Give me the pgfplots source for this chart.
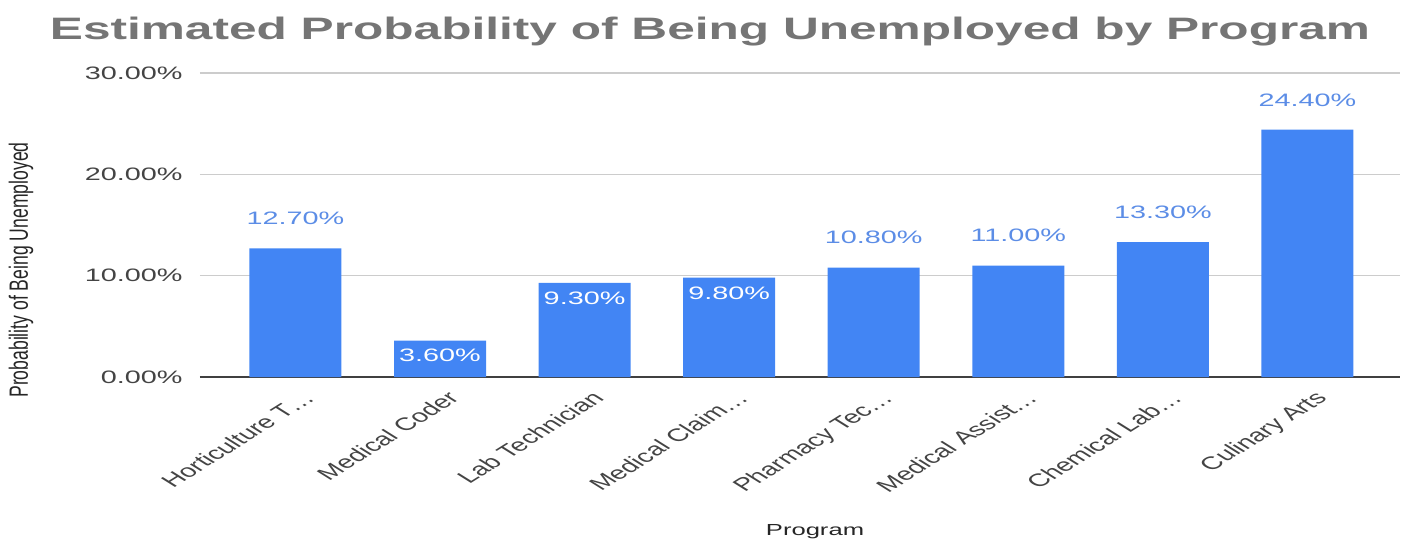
\documentclass[border=0pt]{standalone}
\usepackage{fontspec}
\setmainfont{Liberation Sans}[FakeStretch=1.6]
\newfontfamily\ylabfont{Liberation Sans}
\usepackage{pgfplots}
\pgfplotsset{compat=1.18}
\definecolor{barblue}{HTML}{4285F4}
\definecolor{lblblue}{HTML}{5C8DE6}
\definecolor{titlegray}{HTML}{757575}
\definecolor{tickgray}{HTML}{444444}
\definecolor{gridgray}{HTML}{CCCCCC}
\begin{document}
\begin{tikzpicture}
\useasboundingbox (-100pt,-81.5pt) rectangle (608pt,188.5pt);
\begin{axis}[
  scale only axis,
  width=600pt, height=152pt,
  anchor=south west, at={(0,0)},
  xmin=-0.66, xmax=7.64,
  ymin=0, ymax=30,
  enlargelimits=false,
  axis line style={draw=none},
  major tick length=0pt,
  ytick={0,10,20,30},
  yticklabels={0.00\%,10.00\%,20.00\%,30.00\%},
  yticklabel style={font=\fontsize{9}{10}\selectfont, text=tickgray, anchor=east, inner sep=0pt, xshift=-8.5pt},
  xtick={0,1,2,3,4,5,6,7},
  xticklabels={Horticulture T\dots,Medical Coder,Lab Technician,Medical Claim\dots,Pharmacy Tec\dots,Medical Assist\dots,Chemical Lab\dots,Culinary Arts},
  xticklabel style={font=\ylabfont\fontsize{9}{10}\selectfont, text=tickgray, inner sep=0pt, anchor=base east, xshift=10.5pt, yshift=-11pt, xscale=1.6, rotate=45, transform shape},
  ymajorgrids,
  grid style={draw=gridgray, line width=0.75pt},
  extra y ticks={0},
  extra y tick labels={},
  extra y tick style={grid style={draw=black!75, line width=1.2pt}},
  clip=false,
]
\addplot[ybar, bar width=46pt, fill=barblue, draw=none] coordinates {
  (0,12.7) (1,3.6) (2,9.3) (3,9.8) (4,10.8) (5,11.0) (6,13.3) (7,24.4)
};
\addplot[draw=none, mark=none, point meta=explicit symbolic,
  nodes near coords,
  every node near coord/.style={font=\fontsize{9}{10}\selectfont, text=lblblue, anchor=base, inner sep=0pt, yshift=11.8pt}]
  coordinates {
  (0,12.7) [12.70\%] (4,10.8) [10.80\%] (5,11.0) [11.00\%] (6,13.3) [13.30\%] (7,24.4) [24.40\%]
};
\addplot[draw=none, mark=none, point meta=explicit symbolic,
  nodes near coords,
  every node near coord/.style={font=\fontsize{9}{10}\selectfont, text=white, anchor=base, inner sep=0pt, yshift=-10.7pt}]
  coordinates {
  (1,3.6) [3.60\%] (2,9.3) [9.30\%] (3,9.8) [9.80\%]
};
\end{axis}
\node[anchor=base, inner sep=0pt, text=titlegray, font=\fontsize{15.5}{17}\selectfont\bfseries] at (255pt,168.5pt) {Estimated Probability of Being Unemployed by Program};
\node[anchor=base, inner sep=0pt, text=black!85, font=\fontsize{8}{9}\selectfont] at (307.5pt,-79pt) {Program};
\node[rotate=90, inner sep=0pt, text=black!85] at (-89.5pt,53.5pt) {\scalebox{1}[1.5]{\ylabfont\fontsize{8.8}{10}\selectfont Probability of Being Unemployed}};
\end{tikzpicture}
\end{document}
